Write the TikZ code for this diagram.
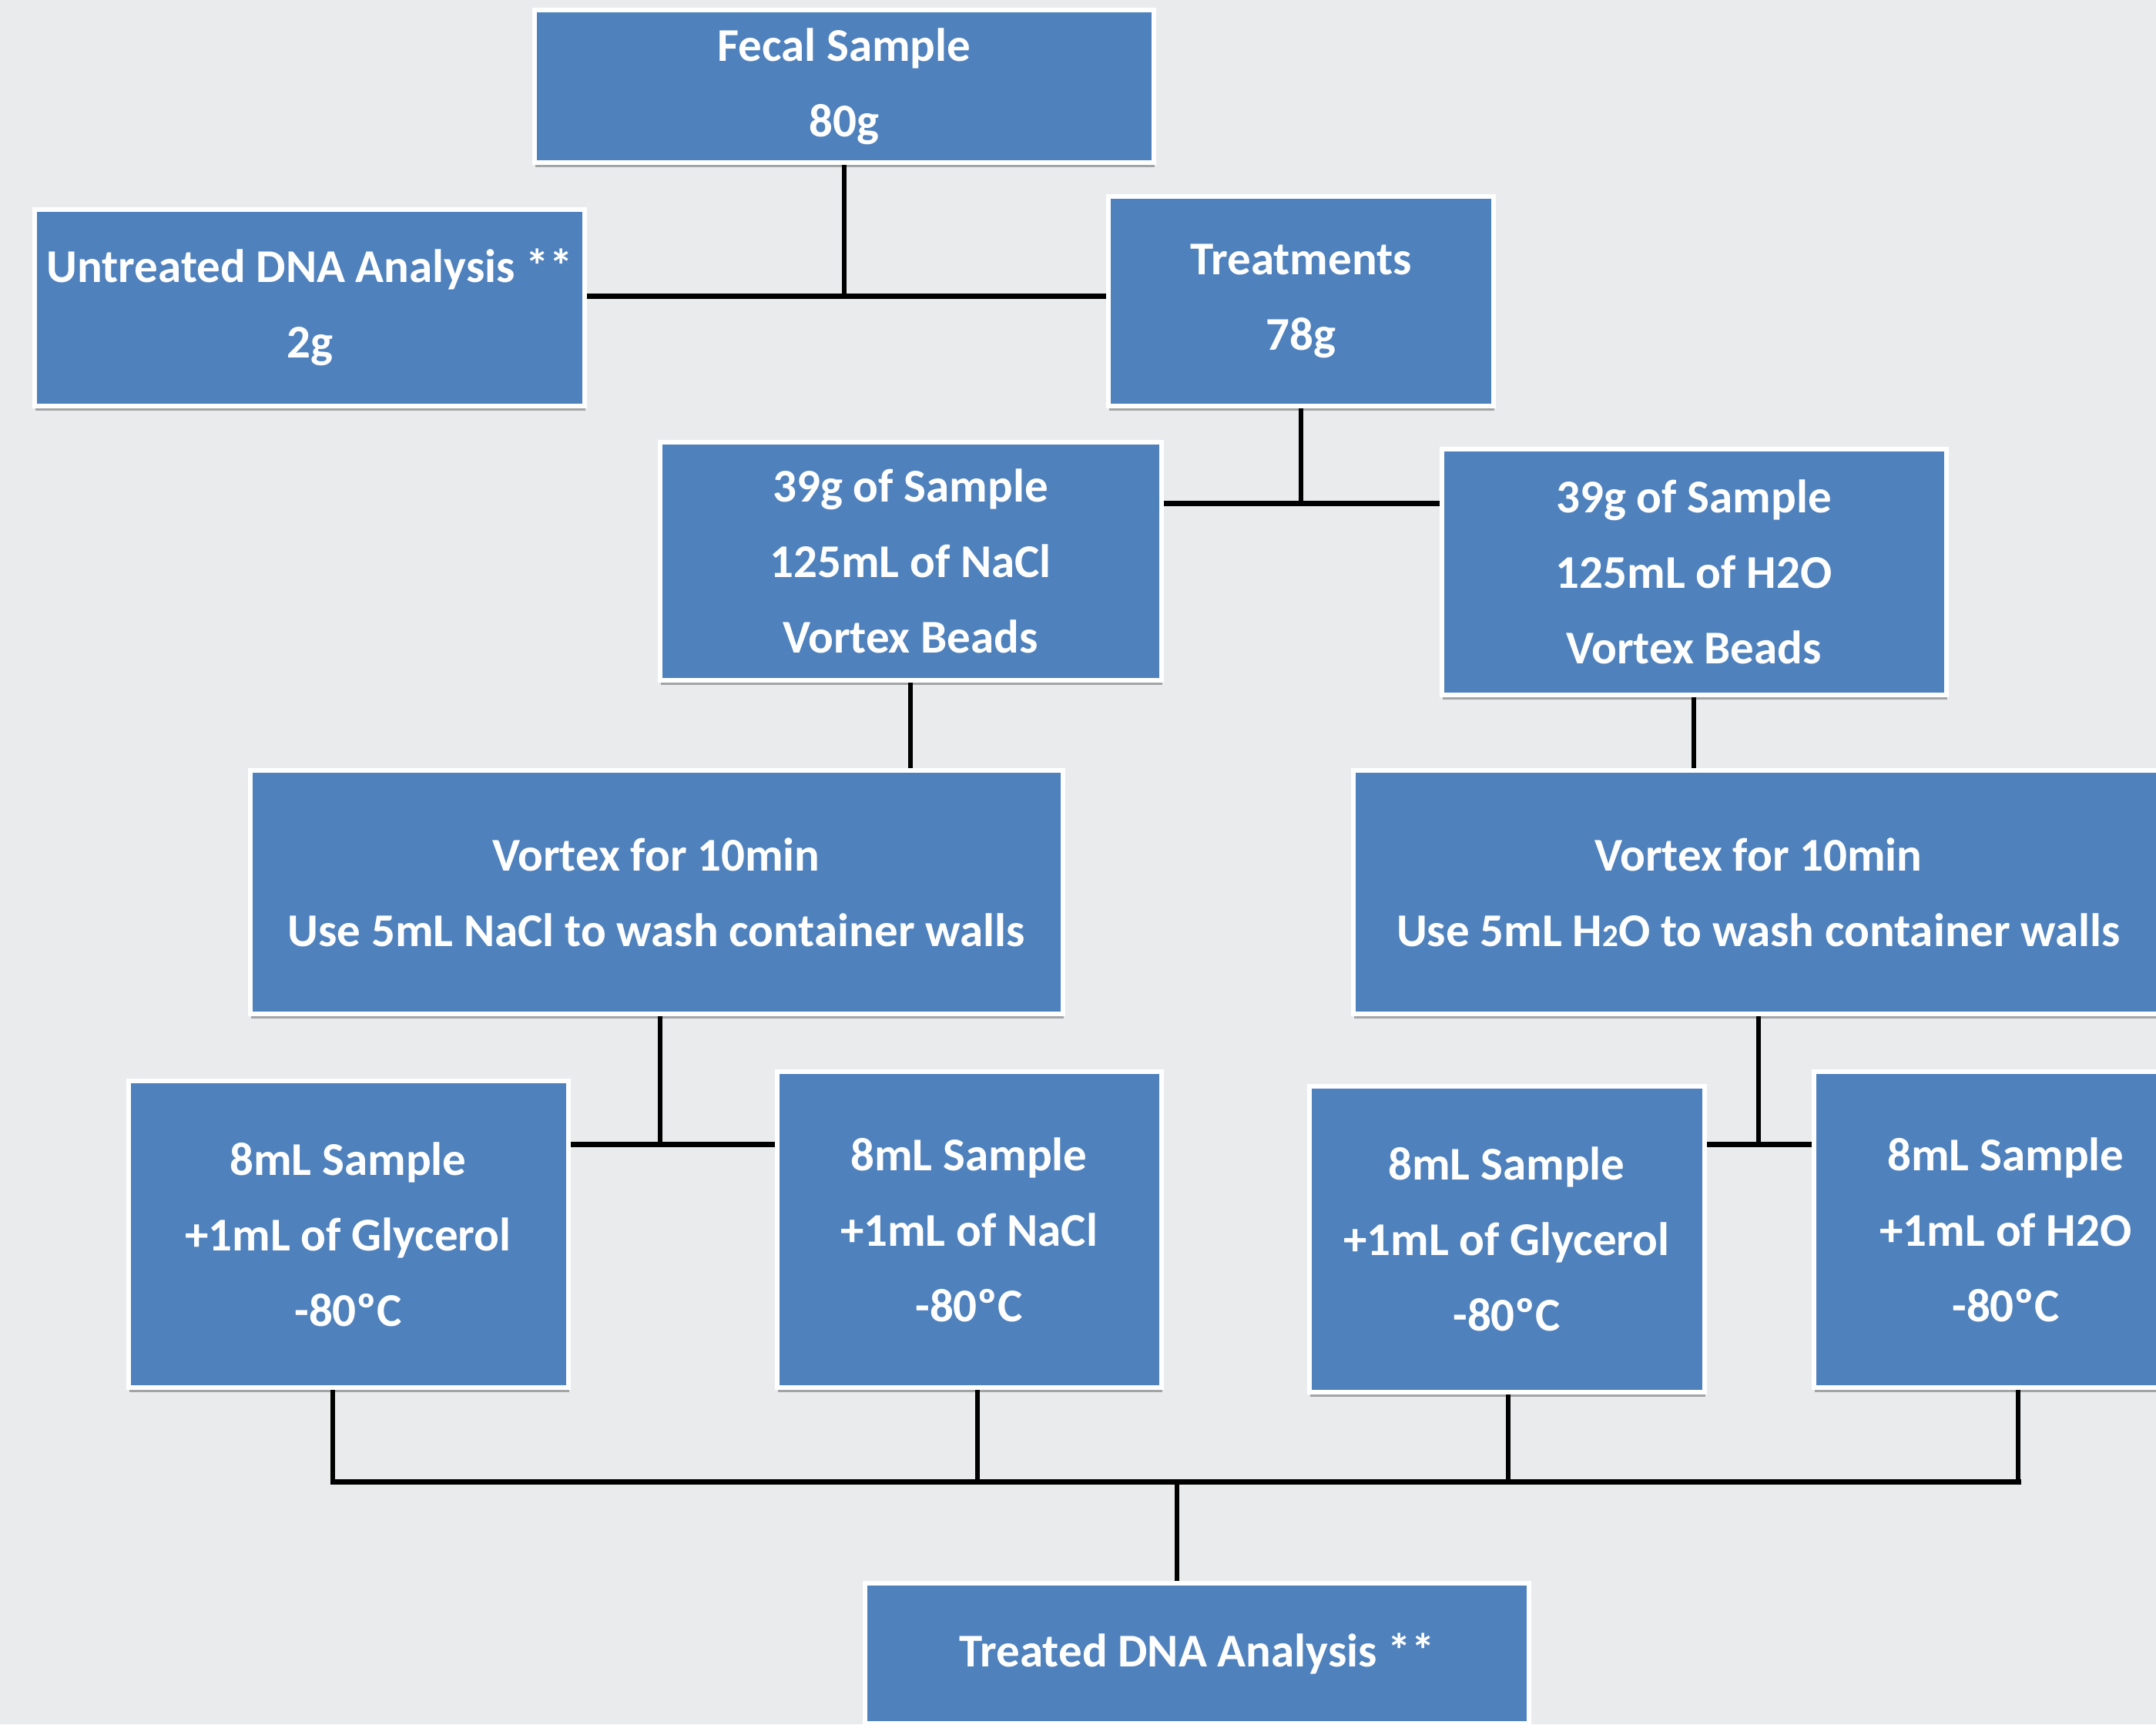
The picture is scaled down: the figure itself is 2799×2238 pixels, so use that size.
\documentclass[tikz,border=0pt]{standalone}
\usepackage{fontspec}
\setmainfont{Carlito}
\usetikzlibrary{shadows}
\definecolor{boxblue}{RGB}{79,129,189}
\definecolor{bgcol}{RGB}{233,235,237}
\pgfdeclarelayer{bgl}
\pgfdeclarelayer{lines}
\pgfsetlayers{bgl,lines,main}
\tikzset{
  stepbox/.style={draw=white, line width=6pt, fill=boxblue, text=white,
    font=\fontsize{61}{98}\selectfont\bfseries, align=center, inner sep=0pt,
    drop shadow={shadow xshift=1pt, shadow yshift=-6pt, opacity=0.3, fill=black}},
  link/.style={line width=6pt, draw=black},
  bus/.style={line width=7pt, draw=black, line cap=rect}
}
\newcommand{\subtwo}{{\fontsize{41}{41}\selectfont 2}}
\begin{document}
\begin{tikzpicture}[x=1pt,y=-1pt]
\useasboundingbox (0,0) rectangle (2799,2238);
\clip (0,0) rectangle (2799,2238);
\begin{pgfonlayer}{bgl}
  \fill[bgcol] (0,0) rectangle (2799,2238);
\end{pgfonlayer}

\node[stepbox, minimum width=804pt, minimum height=198pt] (fecal) at (1096,112) {Fecal Sample\\80g};
\node[stepbox, minimum width=714pt, minimum height=255pt] (untreated) at (402,399) {Untreated DNA Analysis **\\2g};
\node[stepbox, minimum width=500pt, minimum height=272pt] (treat) at (1689,391) {Treatments\\78g};
\node[stepbox, minimum width=651pt, minimum height=309pt] (nacl39) at (1182,728) {39g of Sample\\125mL of NaCl\\Vortex Beads};
\node[stepbox, minimum width=655pt, minimum height=319pt] (h2o39) at (2199,742) {39g of Sample\\125mL of H2O\\Vortex Beads};
\node[stepbox, minimum width=1055pt, minimum height=316pt] (vnacl) at (852,1158) {Vortex for 10min\\Use 5mL NaCl to wash container walls};
\node[stepbox, minimum width=1053pt, minimum height=316pt] (vh2o) at (2283,1158) {Vortex for 10min\\Use 5mL H\subtwo O to wash container walls};
\node[stepbox, minimum width=571pt, minimum height=398pt] (glyL) at (452,1602) {8mL Sample\\+1mL of Glycerol\\-80ºC};
\node[stepbox, minimum width=499pt, minimum height=410pt] (nacl8) at (1258,1596) {8mL Sample\\+1mL of NaCl\\-80ºC};
\node[stepbox, minimum width=513pt, minimum height=397pt] (glyR) at (1956,1608) {8mL Sample\\+1mL of Glycerol\\-80ºC};
\node[stepbox, minimum width=499pt, minimum height=410pt] (h2o8) at (2604,1596) {8mL Sample\\+1mL of H2O\\-80ºC};
\node[stepbox, minimum width=862pt, minimum height=182pt] (treated) at (1554,2146) {Treated DNA Analysis **};

\coordinate (j1) at (1096,384);
\coordinate (j2) at (1689,653);
\coordinate (j3) at (857,1485);
\coordinate (j4) at (2283,1485);
\coordinate (b1) at (432,1923);
\coordinate (b2) at (1269,1923);
\coordinate (b3) at (1958,1923);
\coordinate (b4) at (2620,1923);
\coordinate (j5) at (1528,1923);

\begin{pgfonlayer}{lines}
  \draw[link] (fecal.south) -- (j1);
  \draw[bus] (untreated.east |- j1) -- (treat.west |- j1);
  \draw[link] (treat.south) -- (j2);
  \draw[bus] (nacl39.east |- j2) -- (h2o39.west |- j2);
  \draw[link] (nacl39.south) -- (nacl39.south |- vnacl.north);
  \draw[link] (h2o39.south) -- (h2o39.south |- vh2o.north);
  \draw[link] (vnacl.south -| j3) -- (j3);
  \draw[bus] (glyL.east |- j3) -- (nacl8.west |- j3);
  \draw[link] (vh2o.south -| j4) -- (j4);
  \draw[bus] (glyR.east |- j4) -- (h2o8.west |- j4);
  \draw[link] (glyL.south -| b1) -- (b1);
  \draw[link] (nacl8.south -| b2) -- (b2);
  \draw[link] (glyR.south -| b3) -- (b3);
  \draw[link] (h2o8.south -| b4) -- (b4);
  \draw[bus] (b1) -- (b4);
  \draw[link] (j5) -- (j5 |- treated.north);
\end{pgfonlayer}
\end{tikzpicture}
\end{document}
